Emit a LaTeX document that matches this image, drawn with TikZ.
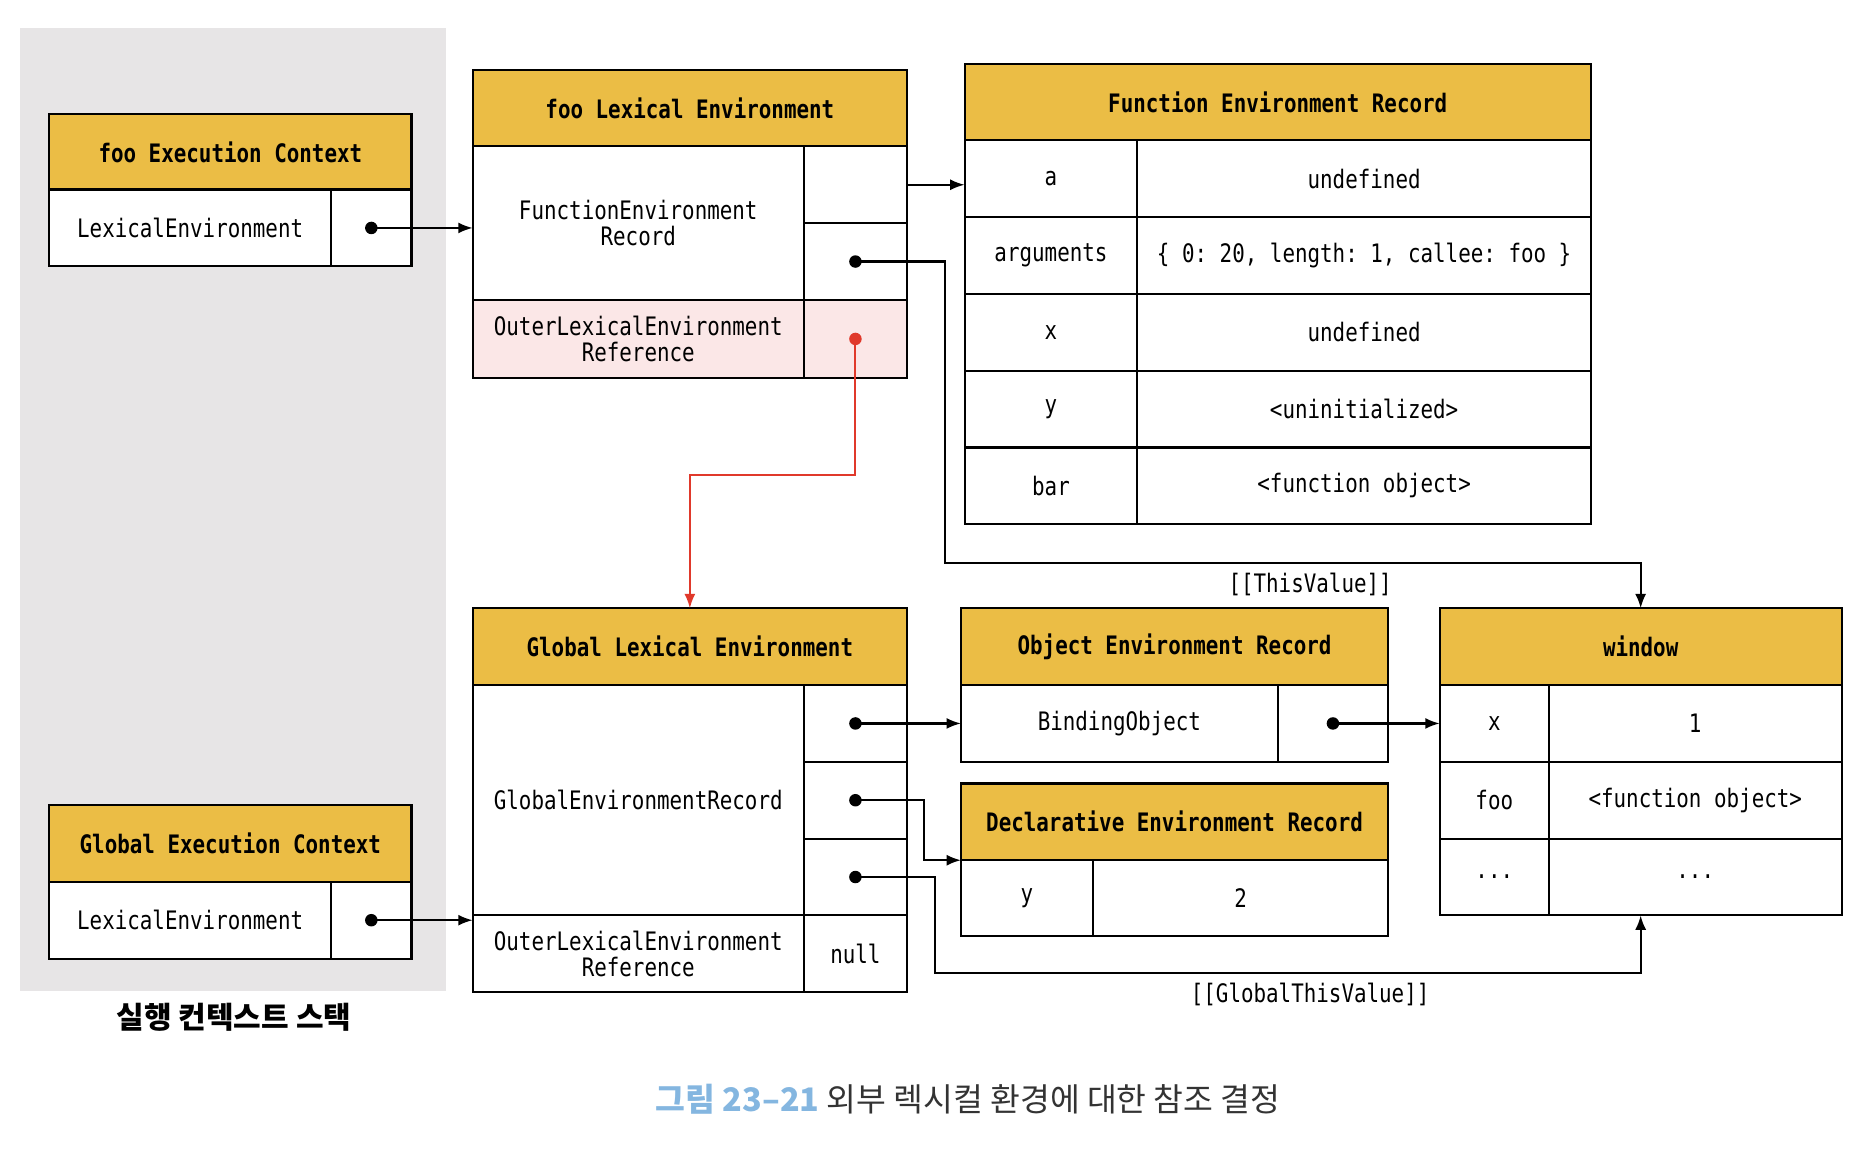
\documentclass[tikz,border=0pt]{standalone}
\usepackage{fontspec}
\setmonofont[FakeStretch=0.82]{DejaVu Sans Mono}
\newfontfamily\krfont{Noto Sans CJK KR}
\usetikzlibrary{arrows.meta}
\definecolor{envgold}{HTML}{EBBD45}
\definecolor{stackgray}{HTML}{E7E5E6}
\definecolor{outerpink}{HTML}{FBE7E7}
\definecolor{refred}{HTML}{E0392B}
\definecolor{capblue}{HTML}{84B6E0}
\definecolor{capgray}{HTML}{333333}

\tikzset{
  cell/.style={draw, line width=0.9pt, fill=white, anchor=north west, inner sep=0pt, outer sep=0pt,
    align=center, font=\ttfamily\fontsize{10.6}{11}\selectfont},
  head/.style={fill=envgold, font=\ttfamily\bfseries\fontsize{10.6}{11}\selectfont},
  ptr/.style={-{Latex[length=6pt,width=4.6pt]}, line width=0.9pt},
  lbl/.style={font=\ttfamily\fontsize{10.6}{11}\selectfont},
}

% cell of a record table: [style]{name}{x,y}{width}{height}{text}
\newcommand{\envcell}[6][]{%
  \node[cell, #1, minimum width={#4*0.5pt}, minimum height={#5*0.5pt}] (#2) at (#3) {#6};}
\newcommand{\restdots}{...}

\begin{document}
\begin{tikzpicture}[x=0.5pt, y=-0.5pt]
        \useasboundingbox (0,0) rectangle (1562,957);

        % Execution context stack
        \fill[stackgray] (17,23) rectangle (372,826);
        \node[font=\krfont\bfseries\fontsize{12.5}{14}\selectfont] (stacklbl) at (195,848) {실행 컨텍스트 스택};

        \envcell[head]{fooEC}{41,95}{302}{64}{foo Execution Context}
        \envcell{fooECle}{41,158}{235}{64}{LexicalEnvironment}
        \envcell{fooECptr}{276,158}{67}{64}{}

        \envcell[head]{globEC}{41,671}{302}{64}{Global Execution Context}
        \envcell{globECle}{41,735}{235}{64}{LexicalEnvironment}
        \envcell{globECptr}{276,735}{67}{64}{}

        % foo Lexical Environment
        \envcell[head]{fooLE}{394,58}{362}{64}{foo Lexical Environment}
        \envcell{fooLEfer}{394,122}{276}{128}{FunctionEnvironment\\Record}
        \envcell{fooLEfer1}{670,122}{86}{64}{}
        \envcell{fooLEfer2}{670,186}{86}{64}{}
        \envcell[fill=outerpink]{fooLEouter}{394,250}{276}{65}{OuterLexicalEnvironment\\Reference}
        \envcell[fill=outerpink]{fooLEouterptr}{670,250}{86}{65}{}

        % Function Environment Record
        \envcell[head]{fer}{804,53}{522}{64}{Function Environment Record}
        \foreach \fkey/\fval [count=\i] in {a/undefined, arguments/{\{ 0: 20, length: 1, callee: foo \}},
            x/undefined, y/<uninitialized>, bar/<function object>} {
            \envcell{ferkey\i}{804,{117+64*(\i-1)}}{144}{64}{\fkey}
            \envcell{ferval\i}{948,{117+64*(\i-1)}}{378}{64}{\fval}
        }

        % Global Lexical Environment
        \envcell[head]{globLE}{394,507}{362}{64}{Global Lexical Environment}
        \envcell{globLEger}{394,571}{276}{192}{GlobalEnvironmentRecord}
        \foreach \i in {1,2,3} {
            \envcell{globLEger\i}{670,{571+64*(\i-1)}}{86}{64}{}
        }
        \envcell{globLEouter}{394,763}{276}{64}{OuterLexicalEnvironment\\Reference}
        \envcell{globLEnull}{670,763}{86}{64}{null}

        % Object and Declarative Environment Records
        \envcell[head]{oer}{801,507}{356}{64}{Object Environment Record}
        \envcell{oerbind}{801,571}{264}{64}{BindingObject}
        \envcell{oerptr}{1065,571}{92}{64}{}

        \envcell[head]{der}{801,653}{356}{64}{Declarative Environment Record}
        \envcell{derkey}{801,717}{110}{63}{y}
        \envcell{derval}{911,717}{246}{63}{2}

        % window
        \envcell[head]{win}{1200,507}{335}{64}{window}
        \foreach \fkey/\fval [count=\i] in {x/1, foo/<function object>, \restdots/\restdots} {
            \envcell{winkey\i}{1200,{571+64*(\i-1)}}{91}{64}{\fkey}
            \envcell{winval\i}{1291,{571+64*(\i-1)}}{244}{64}{\fval}
        }

        % Pointers
        \foreach \p in {fooECptr, globECptr, fooLEfer2, globLEger1, globLEger2, globLEger3, oerptr} {
            \fill (\p.center) circle (2.6pt);
        }
        \draw[ptr] (fooECptr.center) -- (fooECptr.center -| fooLEfer.west);
        \draw[ptr] (globECptr.center) -- (globECptr.center -| globLEouter.west);
        \draw[ptr] (fooLEfer1.east) -- (fooLEfer1.east -| ferkey1.west);
        \draw[ptr] (globLEger1.center) -- (globLEger1.center -| oerbind.west);
        \draw[ptr] (oerptr.center) -- (oerptr.center -| winkey1.west);

        \coordinate (thisbend) at (788,469);
        \draw[ptr] (fooLEfer2.center) -| (thisbend) -| (win.north);
        \node[lbl] (thisval) at (1092,487) {[[ThisValue]]};

        \coordinate (declbend) at (770,700);
        \draw[ptr] (globLEger2.center) -| (declbend) |- (der.south west);

        \coordinate (gthisbend) at (779,811);
        \draw[ptr] (globLEger3.center) -| (gthisbend) -| (win.center |- winval3.south);
        \node[lbl] (gthisval) at (1092,829) {[[GlobalThisValue]]};

        % Outer reference
        \fill[refred] (fooLEouterptr.center) circle (2.6pt);
        \coordinate (redbend) at (575,396);
        \draw[ptr, refred, line width=0.8pt] (fooLEouterptr.center) |- (redbend) -- (redbend |- globLE.north);

        % Caption
        \node[font=\krfont\fontsize{13.5}{15}\selectfont, text=capgray] (caption) at (807,916)
            {\textcolor{capblue}{\bfseries 그림 23–21} 외부 렉시컬 환경에 대한 참조 결정};

    \end{tikzpicture}
\end{document}
